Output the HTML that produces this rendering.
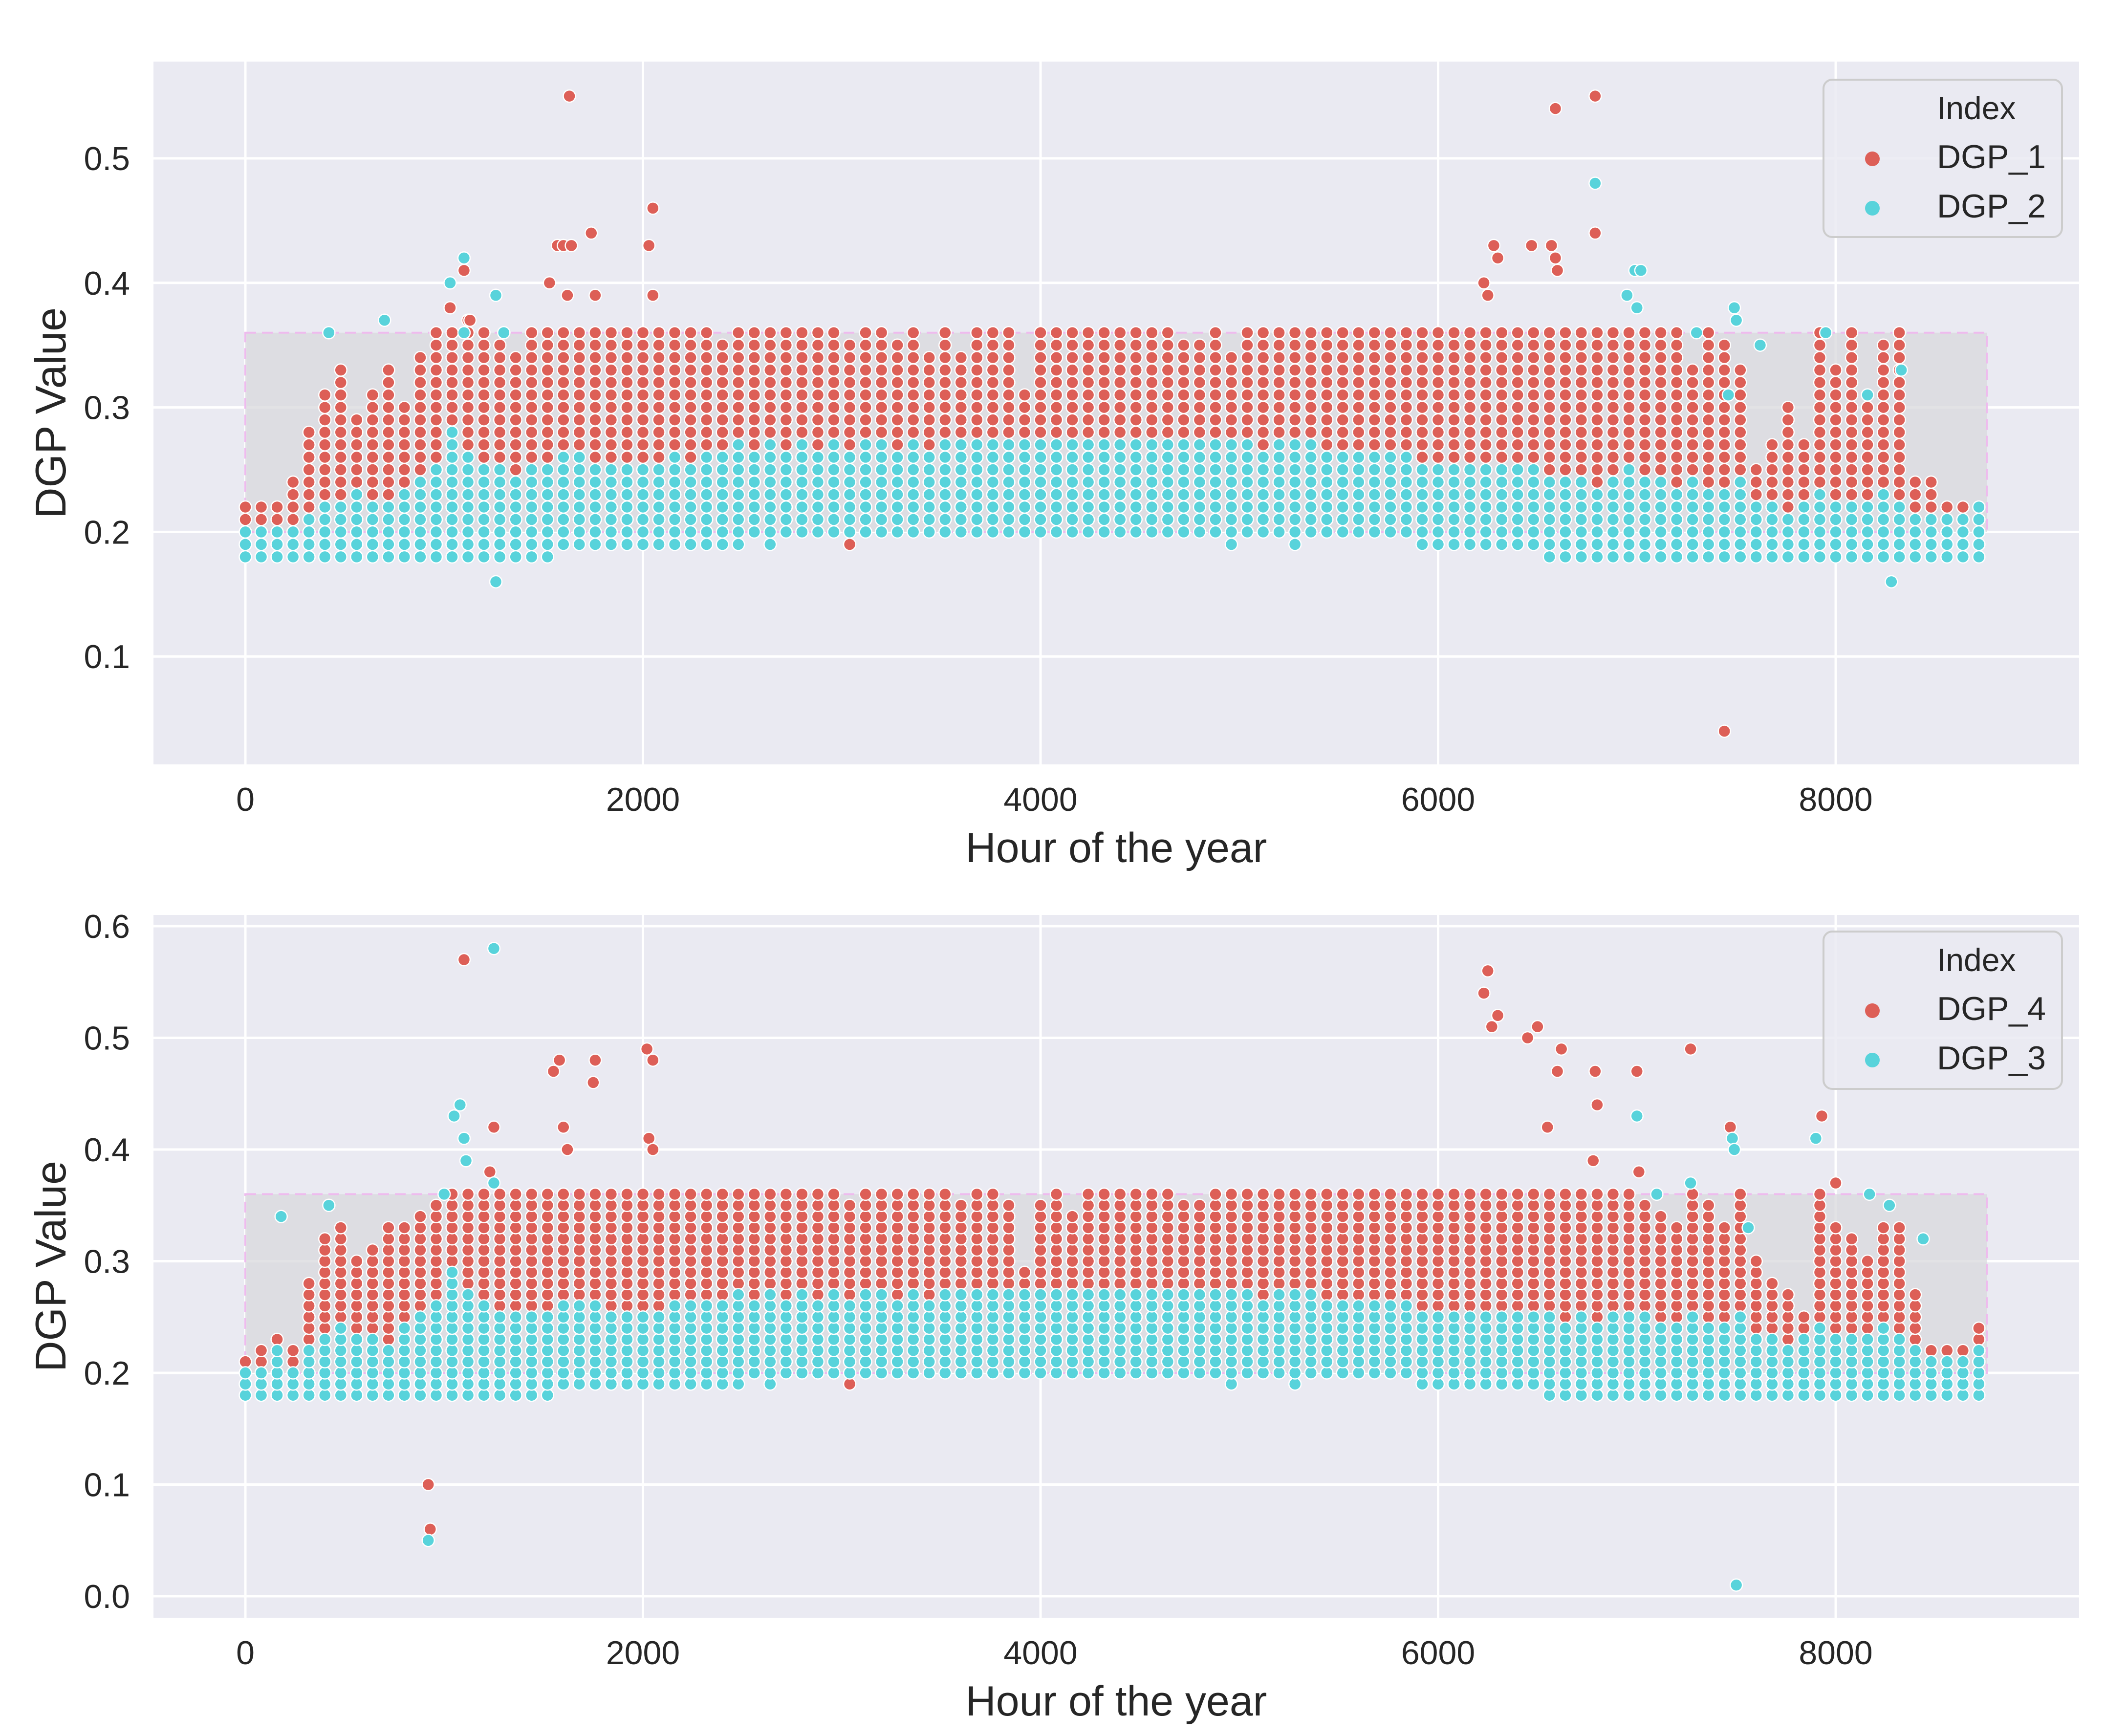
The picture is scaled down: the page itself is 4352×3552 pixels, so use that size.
<!DOCTYPE html>
<html><head><meta charset="utf-8"><style>
html,body{margin:0;padding:0;background:#fff;}
svg{display:block;font-family:"Liberation Sans",sans-serif;}
</style></head><body>
<svg id="fig" width="4352" height="3552" viewBox="0 0 4352 3552" xmlns="http://www.w3.org/2000/svg"></svg>
<script>
// ---- data (values x100), columns every 80 hours ----
const hours = [0,80,160,240,320,400,480,560,640,720,800,880,960,1040,1120,1200,1280,1360,1440,1520,1600,1680,1760,1840,1920,2000,2080,2160,2240,2320,2400,2480,2560,2640,2720,2800,2880,2960,3040,3120,3200,3280,3360,3440,3520,3600,3680,3760,3840,3920,4000,4080,4160,4240,4320,4400,4480,4560,4640,4720,4800,4880,4960,5040,5120,5200,5280,5360,5440,5520,5600,5680,5760,5840,5920,6000,6080,6160,6240,6320,6400,6480,6560,6640,6720,6800,6880,6960,7040,7120,7200,7280,7360,7440,7520,7600,7680,7760,7840,7920,8000,8080,8160,8240,8320,8400,8480,8560,8640,8720];
const dgp1High = [22,22,22,24,28,31,33,29,31,33, 30,34,36,36,37,36,35,34,36,36, 36,36,36,36,36,36,36,36,36,36, 35,36,36,36,36,36,36,36,35,36, 36,35,36,34,36,34,36,36,36,31, 36,36,36,36,36,36,36,36,36,35, 35,36,34,36,36,36,36,36,36,36, 36,36,36,36,36,36,36,36,36,36, 36,36,36,36,36,36,36,36,36,36, 36,33,36,35,33,25,27,30,27,36, 33,36,31,35,36,24,24,22,22,21];
const dgp1Low = [19,19,19,19,19,19,19,19,19,19, 19,19,19,19,19,19,19,19,19,19, 19,19,19,19,19,20,20,20,20,20, 20,20,20,20,20,20,20,20,19,20, 21,21,21,21,21,21,21,21,20,20, 21,21,21,21,21,21,22,21,21,21, 21,21,21,21,20,21,21,20,20,20, 20,20,20,20,20,20,19,19,19,19, 19,19,19,19,19,19,19,19,19,19, 19,19,19,19,19,19,19,19,19,19, 19,19,19,19,19,19,19,19,19,19];
const dgp2High = [20,20,20,20,21,22,22,23,22,22, 23,24,25,28,26,25,25,24,25,25, 26,26,25,25,25,25,25,26,25,26, 26,27,26,27,26,27,26,27,26,27, 27,26,27,26,27,27,27,27,27,27, 27,27,27,27,27,27,27,27,27,27, 27,27,27,27,26,27,27,27,26,26, 26,26,26,26,25,25,25,25,25,25, 25,25,24,24,24,23,24,25,24,24, 23,24,23,23,24,22,22,21,22,23, 22,22,22,23,22,21,21,21,21,22];
const dgp2Low = [18,18,18,18,18,18,18,18,18,18, 18,18,18,18,18,18,18,18,18,18, 19,19,19,19,19,19,19,19,19,19, 19,19,20,19,20,20,20,20,20,20, 20,20,20,20,20,20,20,20,20,20, 20,20,20,20,20,20,20,20,20,20, 20,20,19,20,20,20,19,20,20,20, 20,20,20,20,19,19,19,19,19,19, 19,19,18,18,18,18,18,18,18,18, 18,18,18,18,18,18,18,18,18,18, 18,18,18,18,18,18,18,18,18,18];
const dgp4High = [21,22,23,22,28,32,33,30,31,33, 33,34,35,36,36,36,36,36,36,36, 36,36,36,36,36,36,36,36,36,36, 36,36,36,36,36,36,36,36,35,36, 36,36,36,36,36,35,36,36,35,29, 35,36,34,36,36,36,36,36,36,35, 35,36,36,36,36,36,36,36,36,36, 36,36,36,36,36,36,36,36,36,36, 36,36,36,36,36,36,36,36,35,34, 33,36,35,33,36,30,28,27,25,36, 33,32,30,33,33,27,22,22,22,24];
const dgp4Low = [19,19,19,19,19,19,19,19,19,19, 19,19,19,19,19,19,19,19,19,19, 19,19,19,19,19,20,20,20,20,20, 20,20,20,20,20,20,20,20,19,20, 21,21,21,21,21,21,21,21,20,20, 21,21,21,21,21,21,22,21,21,21, 21,21,21,21,20,21,21,20,20,20, 20,20,20,20,20,20,19,19,19,19, 19,19,19,19,19,19,19,19,19,19, 19,19,19,19,19,19,19,19,19,19, 19,19,19,19,19,19,19,19,19,19];
const dgp3High = [20,20,22,20,22,23,24,23,23,22, 24,25,26,29,27,26,25,25,25,25, 26,26,26,25,25,25,25,26,26,26, 26,27,26,27,26,27,26,27,26,27, 27,26,27,26,27,27,27,27,27,27, 27,27,27,27,27,27,27,27,27,27, 27,27,27,27,26,27,27,27,26,26, 26,26,26,26,25,25,25,25,25,25, 25,25,25,24,25,24,25,25,25,24, 24,25,24,24,25,23,23,22,23,24, 23,23,23,24,23,22,21,21,21,22];
const dgp3Low = [18,18,18,18,18,18,18,18,18,18, 18,18,18,18,18,18,18,18,18,18, 19,19,19,19,19,19,19,19,19,19, 19,19,20,19,20,20,20,20,20,20, 20,20,20,20,20,20,20,20,20,20, 20,20,20,20,20,20,20,20,20,20, 20,20,19,20,20,20,19,20,20,20, 20,20,20,20,19,19,19,19,19,19, 19,19,18,18,18,18,18,18,18,18, 18,18,18,18,18,18,18,18,18,18, 18,18,18,18,18,18,18,18,18,18];
// outliers
const out1Hours = [1030,1100,1130,1530,1570,1600,1640,1630,1620,1740,1760,2030,2050,2050,6230,6250,6280,6300,6470,6570,6590,6600,6590,6790,6790,7440];
const out1Vals  = [0.38,0.41,0.37,0.40,0.43,0.43,0.43,0.55,0.39,0.44,0.39,0.43,0.46,0.39,0.40,0.39,0.43,0.42,0.43,0.43,0.42,0.41,0.54,0.55,0.44,0.04];
const out2Hours = [1030,1100,1260,1260,6790,6990,7020,6950,7490,8280,420,700,1100,1300,7000,7300,7500,7950,7460,7620,8160,8330];
const out2Vals  = [0.40,0.42,0.39,0.16,0.48,0.41,0.41,0.39,0.38,0.16,0.36,0.37,0.36,0.36,0.38,0.36,0.37,0.36,0.31,0.35,0.31,0.33];
const out4Hours = [1100,1250,1230,1550,1580,1600,1620,1750,1760,2020,2050,2030,2050,920,930,6230,6250,6270,6300,6450,6500,6550,6600,6620,6780,6790,6800,7000,7010,7270,7470,7930,8000];
const out4Vals  = [0.57,0.42,0.38,0.47,0.48,0.42,0.40,0.46,0.48,0.49,0.48,0.41,0.40,0.10,0.06,0.54,0.56,0.51,0.52,0.50,0.51,0.42,0.47,0.49,0.39,0.47,0.44,0.47,0.38,0.49,0.42,0.43,0.37];
const out3Hours = [1050,1080,1100,1110,1250,1250,920,7000,7480,7490,7500,7900,180,420,1000,7270,7100,7560,8170,8270,8440];
const out3Vals  = [0.43,0.44,0.41,0.39,0.58,0.37,0.05,0.43,0.41,0.40,0.01,0.41,0.34,0.35,0.36,0.37,0.36,0.33,0.36,0.35,0.32];
const xTicks = [0,2000,4000,6000,8000];
const yTicksTop = [0.1,0.2,0.3,0.4,0.5];
const yTicksBot = [0.0,0.1,0.2,0.3,0.4,0.5,0.6];

const NS = "http://www.w3.org/2000/svg";
const svg = document.getElementById('fig');
function mk(tag, attrs, parent){
  const e = document.createElementNS(NS, tag);
  for (const k in attrs) e.setAttribute(k, attrs[k]);
  (parent||svg).appendChild(e); return e;
}
const RED = '#dd5f57', CYAN = '#58d3db';

function panel(cfg){
  const {top, bottom, y0v, y0px, pxPer01, yTicks, names, series, outs, legendTop, key} = cfg;
  const L = 314, R = 4254;
  const xs = h => 502 + h * 0.40675;
  const ys = v => y0px - (v - y0v) * pxPer01 * 10;
  const g = mk('g', {});
  
  
  const bg = mk('rect', {x:L, y:top, width:R-L, height:bottom-top, fill:'#eaeaf2'}, g);
  
  
  yTicks.forEach(t => {
    const gl = mk('line', {x1:L, x2:R, y1:ys(t), y2:ys(t), stroke:'#fff', 'stroke-width':5}, g);
    
    
    const tl = mk('text', {x:266, y:ys(t)+24, 'text-anchor':'end', 'font-size':68, fill:'#262626'}, g);
    tl.textContent = t.toFixed(1);
    
    
  });
  xTicks.forEach(t => {
    const gl = mk('line', {x1:xs(t), x2:xs(t), y1:top, y2:bottom, stroke:'#fff', 'stroke-width':5}, g);
    
    
    const tl = mk('text', {x:xs(t), y:bottom+95, 'text-anchor':'middle', 'font-size':68, fill:'#262626'}, g);
    tl.textContent = String(t);
    
    
  });
  const band = mk('rect', {x:xs(0), y:ys(0.36), width:xs(8760)-xs(0), height:ys(0.2)-ys(0.36), fill:'#d8d8dc', 'fill-opacity':0.75, stroke:'#eebbee', 'stroke-width':4, 'stroke-dasharray':'22,12'}, g);
  
  
  series.forEach((s, si) => {
    const sg = mk('g', {}, g);
    
    
    for (let i = 0; i < hours.length; i++) {
      for (let v = s.low[i]; v <= s.high[i]; v++) {
        const c = mk('circle', {cx:xs(hours[i]), cy:ys(v/100), r:12.5, fill:s.color, stroke:'#fff', 'stroke-width':2.5}, sg);
        
        
      }
    }
    const o = outs[si];
    for (let i = 0; i < o.h.length; i++) {
      const c = mk('circle', {cx:xs(o.h[i]), cy:ys(o.v[i]), r:12.5, fill:s.color, stroke:'#fff', 'stroke-width':2.5}, sg);
      
      
    }
  });
  const xl = mk('text', {x:(L+R)/2, y:bottom+200, 'text-anchor':'middle', 'font-size':86, fill:'#262626'}, g);
  xl.textContent = 'Hour of the year';
  
  
  const cy = (top+bottom)/2;
  const yl = mk('text', {x:0, y:0, 'text-anchor':'middle', 'font-size':88, fill:'#262626', transform:`translate(134,${cy}) rotate(-90)`}, g);
  yl.textContent = 'DGP Value';
  
  
  const lg = mk('g', {}, g);
  
  
  mk('rect', {x:3731, y:legendTop, width:488, height:322, rx:18, fill:'#eaeaf2', 'fill-opacity':0.85, stroke:'#cccccc', 'stroke-width':4}, lg);
  const lt = mk('text', {x:3963, y:legendTop+81, 'font-size':66, fill:'#262626'}, lg);
  lt.textContent = 'Index';
  
  
  names.forEach((n, i) => {
    const e = mk('g', {}, lg);
    
    
    mk('circle', {cx:3831, cy:legendTop+162+i*101, r:15, fill:series[i].color}, e);
    const t = mk('text', {x:3963, y:legendTop+181+i*101, 'font-size':68, fill:'#262626'}, e);
    t.textContent = n;
  });
}

panel({key:'top', top:126, bottom:1564, y0v:0.5, y0px:324, pxPer01:254.8, yTicks:yTicksTop,
  names:['DGP_1','DGP_2'],
  series:[{low:dgp1Low, high:dgp1High, color:RED},{low:dgp2Low, high:dgp2High, color:CYAN}],
  outs:[{h:out1Hours, v:out1Vals},{h:out2Hours, v:out2Vals}], legendTop:163});
panel({key:'bottom', top:1872, bottom:3310, y0v:0.0, y0px:3266, pxPer01:228.5, yTicks:yTicksBot,
  names:['DGP_4','DGP_3'],
  series:[{low:dgp4Low, high:dgp4High, color:RED},{low:dgp3Low, high:dgp3High, color:CYAN}],
  outs:[{h:out4Hours, v:out4Vals},{h:out3Hours, v:out3Vals}], legendTop:1906});
</script>
</body></html>
